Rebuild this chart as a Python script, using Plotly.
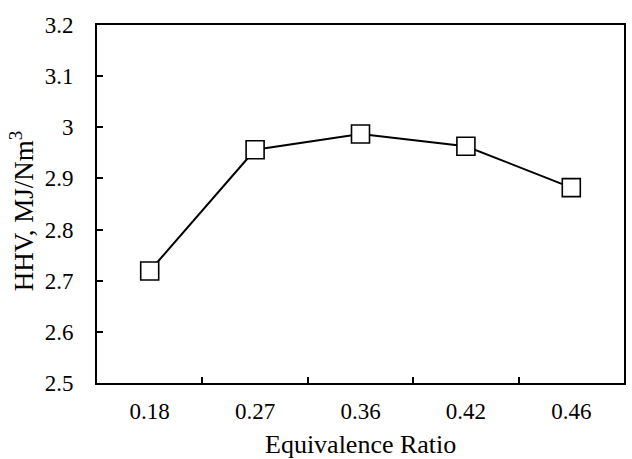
import plotly.graph_objects as go

categories = ["0.18", "0.27", "0.36", "0.42", "0.46"]
hhv = [2.719, 2.956, 2.987, 2.963, 2.882]
y_ticks = [2.5, 2.6, 2.7, 2.8, 2.9, 3.0, 3.1, 3.2]
y_tick_labels = ["2.5", "2.6", "2.7", "2.8", "2.9", "3", "3.1", "3.2"]
x_title = "Equivalence Ratio"
y_title = "HHV, MJ/Nm<sup>3</sup>"

font_family = "Liberation Serif, Times New Roman, serif"

fig = go.Figure(
    go.Scatter(
        x=categories,
        y=hhv,
        mode="lines+markers",
        line=dict(color="black", width=2),
        marker=dict(symbol="square", size=18, color="white",
                    line=dict(color="black", width=1.6)),
        cliponaxis=False,
        showlegend=False,
    )
)

fig.update_layout(
    width=632,
    height=459,
    margin=dict(l=97, r=8, t=25, b=76, autoexpand=False),
    paper_bgcolor="white",
    plot_bgcolor="white",
    font=dict(family=font_family, size=23, color="black"),
)

axis_common = dict(
    ticks="inside",
    ticklen=6,
    tickwidth=1.5,
    tickcolor="black",
    showline=True,
    linecolor="black",
    linewidth=2,
    mirror=True,
    showgrid=False,
    zeroline=False,
    automargin=False,
)

fig.update_xaxes(
    type="category",
    range=[-0.5, 4.5],
    tickson="boundaries",
    tickfont=dict(family=font_family, size=23, color="black"),
    ticklabelstandoff=6,
    **axis_common,
)

fig.update_yaxes(
    range=[2.5, 3.2],
    tickvals=y_ticks,
    ticktext=y_tick_labels,
    tickfont=dict(family=font_family, size=23, color="black"),
    ticklabelstandoff=17,
    **axis_common,
)

fig.add_annotation(
    text=x_title, xref="paper", yref="paper", x=0.5, y=-0.171,
    xanchor="center", yanchor="middle", showarrow=False,
    font=dict(family=font_family, size=26, color="black"),
)
fig.add_annotation(
    text=y_title, xref="paper", yref="paper", x=-0.142, y=0.48,
    xanchor="center", yanchor="middle", textangle=-90, showarrow=False,
    font=dict(family=font_family, size=27, color="black"),
)

fig.write_html("out.html")
